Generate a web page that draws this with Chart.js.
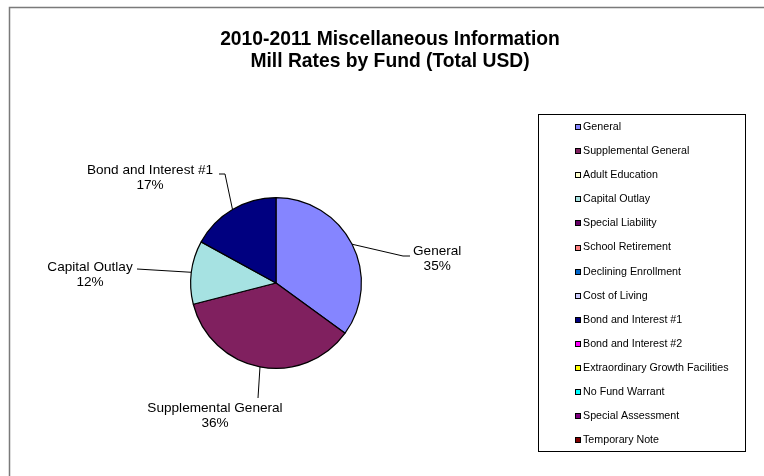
<!DOCTYPE html>
<html>
<head>
<meta charset="utf-8">
<title>Mill Rates by Fund</title>
<script src="https://cdn.jsdelivr.net/npm/chart.js@4.4.1/dist/chart.umd.min.js"></script>
<style>
  html, body { margin: 0; padding: 0; background: #ffffff; }
  canvas { display: block; }
</style>
</head>
<body>
<canvas id="millChart" width="764" height="476"></canvas>
<script>
// Funds and their share of the 2010-2011 mill levy
var funds = [
    "General", "Supplemental General", "Adult Education", "Capital Outlay",
    "Special Liability", "School Retirement", "Declining Enrollment", "Cost of Living",
    "Bond and Interest #1", "Bond and Interest #2", "Extraordinary Growth Facilities",
    "No Fund Warrant", "Special Assessment", "Temporary Note"
];
var millRates = [35, 36, 0, 12, 0, 0, 0, 0, 17, 0, 0, 0, 0, 0];
var titleLines = ["2010-2011 Miscellaneous Information", "Mill Rates by Fund (Total USD)"];

var fundColors = [
    "#8585ff", "#80205f", "#ffffcc", "#a6e2e2", "#660066", "#ff8080", "#0066cc",
    "#ccccff", "#000080", "#ff00ff", "#ffff00", "#00ffff", "#800080", "#800000"
];

var FONT = "'Liberation Sans', Arial, sans-serif";

// Where each data label sits, relative to the pie centre:
// elbow / end of the leader line, text anchor and alignment
var labelLayout = {
    0: { elbow: [127, -27], end: [134, -27], text: [137, -32], align: "left" },
    1: { elbow: null, end: [-18, 115], text: [-61, 125], align: "center" },
    3: { elbow: null, end: [-139, -14], text: [-186, -16], align: "center" },
    8: { elbow: [-51, -109], end: [-57, -109], text: [-126, -113], align: "center" }
};

// Frame, title, leader labels and the boxed legend
var decorPlugin = {
    id: "decor",
    afterDraw: function (chart) {
        var ctx = chart.ctx;
        ctx.save();

        // outer frame (runs off the right and bottom edges)
        ctx.strokeStyle = "#7a7a7a";
        ctx.lineWidth = 1.5;
        ctx.strokeRect(9.5, 7.5, 800, 500);

        // title
        ctx.fillStyle = "#000";
        ctx.font = "bold 19.3px " + FONT;
        ctx.textAlign = "center";
        ctx.textBaseline = "alphabetic";
        ctx.fillText(titleLines[0], 390, 45);
        ctx.fillText(titleLines[1], 390, 67);

        // data labels with leader lines
        var meta = chart.getDatasetMeta(0);
        var total = millRates.reduce(function (a, b) { return a + b; }, 0);
        ctx.font = "13.6px " + FONT;
        ctx.textBaseline = "middle";
        ctx.lineWidth = 1;
        ctx.strokeStyle = "#000";
        meta.data.forEach(function (arc, i) {
            var lay = labelLayout[i];
            if (!lay || !millRates[i]) return;
            var p = arc.getProps(["x", "y", "startAngle", "endAngle", "outerRadius"], true);
            var mid = (p.startAngle + p.endAngle) / 2;
            var sx = p.x + Math.cos(mid) * p.outerRadius;
            var sy = p.y + Math.sin(mid) * p.outerRadius;
            ctx.beginPath();
            ctx.moveTo(sx, sy);
            if (lay.elbow) ctx.lineTo(p.x + lay.elbow[0], p.y + lay.elbow[1]);
            ctx.lineTo(p.x + lay.end[0], p.y + lay.end[1]);
            ctx.stroke();

            var pct = Math.round(millRates[i] / total * 100) + "%";
            var tx = p.x + lay.text[0];
            var ty = p.y + lay.text[1];
            ctx.textAlign = "center";
            if (lay.align === "left") {
                // left-anchored block, lines centred on the widest one
                tx += ctx.measureText(funds[i]).width / 2;
            }
            ctx.fillText(funds[i], tx, ty);
            ctx.fillText(pct, tx, ty + 15);
        });

        // legend box
        ctx.strokeStyle = "#000";
        ctx.lineWidth = 1;
        ctx.strokeRect(538.5, 114.5, 207, 337);
        ctx.font = "10.7px " + FONT;
        ctx.textAlign = "left";
        ctx.textBaseline = "middle";
        funds.forEach(function (name, i) {
            var y = 127 + i * 24.1;
            ctx.fillStyle = fundColors[i];
            ctx.fillRect(575, Math.round(y) - 3, 6, 6);
            ctx.strokeStyle = "#000";
            ctx.strokeRect(575.5, Math.round(y) - 2.5, 5, 5);
            ctx.fillStyle = "#000";
            ctx.fillText(name, 583, y);
        });

        ctx.restore();
    }
};

var ctx = document.getElementById("millChart").getContext("2d");
var millChart = new Chart(ctx, {
    type: "pie",
    data: {
        labels: funds,
        datasets: [{
            data: millRates,
            backgroundColor: fundColors,
            borderColor: "#000",
            borderWidth: 1.2
        }]
    },
    options: {
        responsive: false,
        animation: false,
        layout: {
            // puts the pie centre near (276, 283) with a radius of ~85
            padding: { left: 190, right: 402, top: 197, bottom: 107 }
        },
        plugins: {
            legend: { display: false },
            title: { display: false },
            tooltip: { enabled: false }
        }
    },
    plugins: [decorPlugin]
});
</script>
</body>
</html>
